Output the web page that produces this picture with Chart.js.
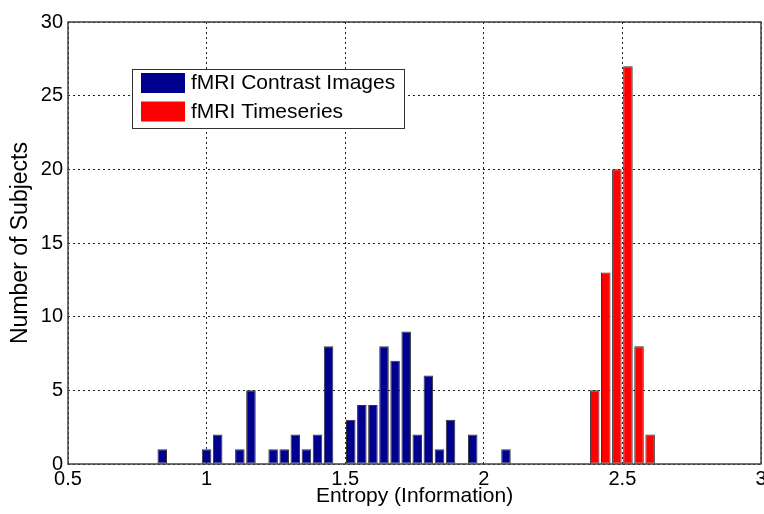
<!DOCTYPE html>
<html>
<head>
<meta charset="utf-8">
<script src="https://cdn.jsdelivr.net/npm/chart.js@4/dist/chart.umd.min.js"></script>
<style>
  html, body { margin: 0; padding: 0; background: #fff; overflow: hidden; }
  #wrap { width: 764px; height: 514px; }
</style>
</head>
<body>
<div id="wrap"><canvas id="histChart"></canvas></div>
<script>
// bin centres and counts
const contrastBins = [0.80, 0.84, 0.88, 0.92, 0.96, 1.00, 1.04, 1.08, 1.12, 1.16, 1.20, 1.24,
    1.28, 1.32, 1.36, 1.40, 1.44, 1.48, 1.52, 1.56, 1.60, 1.64, 1.68, 1.72, 1.76, 1.80,
    1.84, 1.88, 1.92, 1.96, 2.00, 2.04, 2.08, 2.12, 2.16];
const contrastCounts = [0, 1, 0, 0, 0, 1, 2, 0, 1, 5, 0, 1,
    1, 2, 1, 2, 8, 0, 3, 4, 4, 8, 7, 9, 2, 6,
    1, 3, 0, 2, 0, 0, 1, 0, 0];

const timeseriesBins = [2.20, 2.24, 2.28, 2.32, 2.36, 2.40, 2.44, 2.48, 2.52, 2.56, 2.60];
const timeseriesCounts = [0, 0, 0, 0, 0, 5, 13, 20, 27, 8, 2];

const seriesNames = ['fMRI Contrast Images', 'fMRI Timeseries'];
const xTickLabels = ['0.5', '1', '1.5', '2', '2.5', '3'];
const yTickLabels = ['0', '5', '10', '15', '20', '25', '30'];

const FONT = '"Liberation Sans", Arial, sans-serif';

// MATLAB-style box round the axes plus the legend sitting inside the plot
const frameAndLegend = {
    id: 'frameAndLegend',
    afterDraw(chart) {
        const { ctx, chartArea: a } = chart;
        ctx.save();
        ctx.strokeStyle = '#404040';
        ctx.lineWidth = 1.5;
        ctx.strokeRect(a.left, a.top, a.right - a.left, a.bottom - a.top);

        const bx = 132, by = 69, bw = 272, bh = 59;
        ctx.fillStyle = '#fff';
        ctx.fillRect(bx, by, bw, bh);
        ctx.lineWidth = 1;
        ctx.strokeStyle = '#333';
        ctx.strokeRect(bx + 0.5, by + 0.5, bw, bh);
        ctx.font = '21px ' + FONT;
        ctx.textBaseline = 'middle';
        ctx.textAlign = 'left';
        chart.data.datasets.forEach((ds, i) => {
            const y = by + 4 + i * 28.5;
            ctx.fillStyle = ds.backgroundColor;
            ctx.fillRect(bx + 9, y, 44, 20);
            ctx.fillStyle = '#000';
            ctx.fillText(ds.label, bx + 59, y + 10.5);
        });
        ctx.restore();
    }
};

const toPoints = (xs, ys) => xs.map((x, i) => ({ x: x, y: ys[i] }));

new Chart(document.getElementById('histChart'), {
    type: 'bar',
    data: {
        datasets: [{
            label: seriesNames[0],
            data: toPoints(contrastBins, contrastCounts),
            backgroundColor: '#00008f',
            borderColor: '#333',
            borderWidth: 1,
            borderSkipped: false,
            grouped: false,
            barPercentage: 0.86,
            categoryPercentage: 1
        }, {
            label: seriesNames[1],
            data: toPoints(timeseriesBins, timeseriesCounts),
            backgroundColor: '#ff0000',
            borderColor: '#333',
            borderWidth: 1,
            borderSkipped: false,
            grouped: false,
            barPercentage: 0.86,
            categoryPercentage: 1
        }]
    },
    options: {
        responsive: true,
        maintainAspectRatio: false,
        animation: false,
        layout: { padding: { top: 22, left: 0, right: 0, bottom: 0 } },
        plugins: {
            legend: { display: false },
            tooltip: { enabled: false }
        },
        scales: {
            x: {
                type: 'linear',
                min: 0.5,
                max: 3,
                offset: false,
                afterFit: s => { s.height = 50; s.paddingRight = 3; s.paddingLeft = 0; },
                ticks: {
                    stepSize: 0.5,
                    color: '#000',
                    padding: 3,
                    maxRotation: 0,
                    font: { family: FONT, size: 20 },
                    callback: (v, i) => xTickLabels[i]
                },
                grid: { offset: false, color: '#222', lineWidth: 1, drawTicks: false },
                border: { display: false, dash: [2, 3] },
                title: {
                    display: true,
                    text: 'Entropy (Information)',
                    color: '#000',
                    font: { family: FONT, size: 21 },
                    padding: { top: 0, bottom: 5 }
                }
            },
            y: {
                min: 0,
                max: 30,
                afterFit: s => { s.width = 68; },
                ticks: {
                    stepSize: 5,
                    color: '#000',
                    padding: 5,
                    font: { family: FONT, size: 20 },
                    callback: (v, i) => yTickLabels[i]
                },
                grid: { color: '#222', lineWidth: 1, drawTicks: false },
                border: { display: false, dash: [2, 3] },
                title: {
                    display: true,
                    text: 'Number of Subjects',
                    color: '#000',
                    font: { family: FONT, size: 23 },
                    padding: { top: 7, bottom: 0 }
                }
            }
        }
    },
    plugins: [frameAndLegend]
});
</script>
</body>
</html>
